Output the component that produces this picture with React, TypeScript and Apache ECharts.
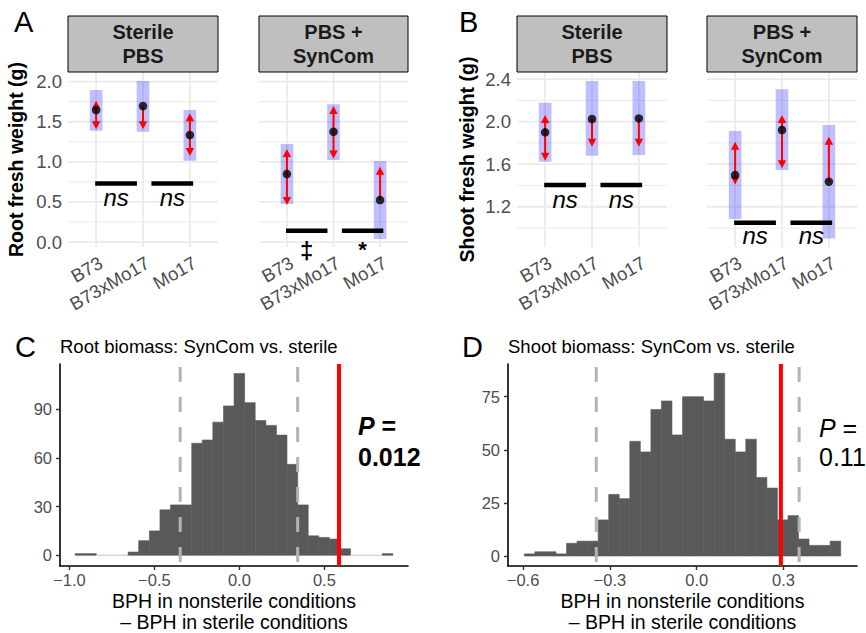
import React, { useEffect, useRef } from 'react';
import * as echarts from 'echarts';

const FONT = '"Liberation Sans", Arial, Helvetica, sans-serif';
const GRAY_TEXT = '#4D4D4D';

// ---------- Panels A / B data ----------
const genotypes = ['B73', 'B73xMo17', 'Mo17'];

const rootSterileMean = [1.646, 1.696, 1.334];
const rootSterileCiLow = [1.388, 1.375, 1.014];
const rootSterileCiHigh = [1.895, 2.007, 1.646];
const rootSterileArrowLow = [1.405, 1.405, 1.072];
const rootSterileArrowHigh = [1.762, 1.696, 1.605];

const rootSynMean = [0.848, 1.375, 0.524];
const rootSynCiLow = [0.474, 1.022, 0.037];
const rootSynCiHigh = [1.222, 1.717, 1.01];
const rootSynArrowLow = [0.461, 1.043, 0.524];
const rootSynArrowHigh = [1.16, 1.696, 0.939];

const shootSterileMean = [1.899, 2.024, 2.03];
const shootSterileCiLow = [1.623, 1.679, 1.686];
const shootSterileCiHigh = [2.177, 2.381, 2.381];
const shootSterileArrowLow = [1.632, 1.764, 1.764];
const shootSterileArrowHigh = [2.062, 2.024, 2.03];

const shootSynMean = [1.498, 1.921, 1.435];
const shootSynCiLow = [1.084, 1.545, 0.903];
const shootSynCiHigh = [1.911, 2.303, 1.968];
const shootSynArrowLow = [1.41, 1.561, 1.435];
const shootSynArrowHigh = [1.811, 2.062, 1.858];

// significance comparisons (x spans in genotype-position units)
const sigSpans = [[0.98, 1.87], [2.18, 3.07]];
const rootSterileSigY = [0.73, 0.73];
const rootSterileSigLabels = ['ns', 'ns'];
const rootSynSigY = [0.141, 0.141];
const rootSynSigLabels = ['‡', '*'];
const shootSterileSigY = [1.404, 1.404];
const shootSterileSigLabels = ['ns', 'ns'];
const shootSynSigY = [1.05, 1.05];
const shootSynSigLabels = ['ns', 'ns'];

const rootTicks = [0, 0.5, 1, 1.5, 2];
const rootMinorTicks = [0.25, 0.75, 1.25, 1.75];
const shootTicks = [1.2, 1.6, 2.0, 2.4];
const shootMinorTicks = [1.0, 1.4, 1.8, 2.2];

// ---------- Panels C / D data ----------
const rootBinWidth = 0.0623;
const rootBinCenters = [
  -0.935, -0.872, -0.81, -0.748, -0.685, -0.623, -0.561, -0.498, -0.436, -0.374,
  -0.312, -0.249, -0.187, -0.125, -0.062, 0, 0.062, 0.125, 0.187, 0.249,
  0.312, 0.374, 0.436, 0.498, 0.561, 0.623, 0.685, 0.748, 0.81, 0.872,
];
const rootBinCounts = [
  1, 1, 0, 0, 0, 2, 9, 15, 28, 31,
  31, 69, 71, 82, 92, 112, 94, 83, 80, 74,
  56, 31, 12, 11, 10, 4, 0, 0, 0, 1,
];
const rootObserved = 0.586;
const rootNullLow = -0.348;
const rootNullHigh = 0.343;
const rootXTicks = [-1.0, -0.5, 0.0, 0.5];
const rootYTicks = [0, 30, 60, 90];

const shootBinWidth = 0.03644;
const shootBinCenters = [
  -0.5773, -0.5409, -0.5044, -0.468, -0.4315, -0.3951, -0.3587, -0.3222, -0.2858, -0.2493,
  -0.2129, -0.1765, -0.14, -0.1036, -0.0671, -0.0307, 0.0057, 0.0422, 0.0786, 0.1151,
  0.1515, 0.1879, 0.2244, 0.2608, 0.2973, 0.3337, 0.3701, 0.4066, 0.443, 0.4795,
];
const shootBinCounts = [
  1, 2, 2, 1, 6, 7, 7, 17, 29, 27,
  54, 49, 69, 73, 57, 75, 75, 73, 86, 55,
  49, 55, 37, 32, 17, 19, 8, 5, 5, 7,
];
const shootObserved = 0.291;
const shootNullLow = -0.347;
const shootNullHigh = 0.354;
const shootXTicks = [-0.6, -0.3, 0.0, 0.3];
const shootYTicks = [0, 25, 50, 75];

const positions = genotypes.map((_, i) => i + 1);

function facetSeries(
  gi: number,
  mean: number[], ciLo: number[], ciHi: number[], arLo: number[], arHi: number[],
  major: number[], minor: number[], sigY: number[], sigLabels: string[],
  nsOffset: number,
) {
  return [
    {
      type: 'custom', xAxisIndex: gi, yAxisIndex: gi, z: 1, silent: true, clip: false,
      data: [
        ...major.map((v) => [0, v]),
        ...minor.map((v) => [1, v]),
        ...positions.map((v) => [2, v]),
      ],
      renderItem: (params: any, api: any) => {
        const cs = params.coordSys;
        const k = api.value(0);
        const v = api.value(1);
        if (k === 2) {
          const x = api.coord([v, major[0]])[0];
          return { type: 'line', shape: { x1: x, y1: cs.y, x2: x, y2: cs.y + cs.height }, style: { stroke: '#EBEBEB', lineWidth: 1.8 } };
        }
        const y = api.coord([1, v])[1];
        return { type: 'line', shape: { x1: cs.x, y1: y, x2: cs.x + cs.width, y2: y }, style: { stroke: '#EBEBEB', lineWidth: k === 0 ? 1.8 : 1 } };
      },
    },
    {
      type: 'custom', xAxisIndex: gi, yAxisIndex: gi, z: 2, silent: true, clip: false,
      data: positions.map((p, i) => [p, ciLo[i], ciHi[i]]),
      renderItem: (params: any, api: any) => {
        const x = api.value(0);
        const a = api.coord([x - 0.135, api.value(2)]);
        const b = api.coord([x + 0.135, api.value(1)]);
        return { type: 'rect', shape: { x: a[0], y: a[1], width: b[0] - a[0], height: b[1] - a[1] }, style: { fill: 'rgba(0,0,255,0.25)' } };
      },
    },
    {
      type: 'custom', xAxisIndex: gi, yAxisIndex: gi, z: 3, silent: true, clip: false,
      data: positions.map((p, i) => [p, mean[i], arLo[i], arHi[i]]),
      renderItem: (params: any, api: any) => {
        const x = api.value(0);
        const pm = api.coord([x, api.value(1)]);
        const pl = api.coord([x, api.value(2)]);
        const ph = api.coord([x, api.value(3)]);
        const px = pm[0];
        const children: any[] = [];
        const red = '#FF0000';
        const upOn = pm[1] - ph[1] > 4;
        const downOn = pl[1] - pm[1] > 4;
        const y1 = upOn ? ph[1] + 5 : pm[1];
        const y2 = downOn ? pl[1] - 5 : pm[1];
        children.push({ type: 'line', shape: { x1: px, y1, x2: px, y2 }, style: { stroke: red, lineWidth: 2 } });
        if (upOn) {
          children.push({ type: 'polygon', shape: { points: [[px, ph[1]], [px - 4.2, ph[1] + 8], [px + 4.2, ph[1] + 8]] }, style: { fill: red } });
        }
        if (downOn) {
          children.push({ type: 'polygon', shape: { points: [[px, pl[1]], [px - 4.2, pl[1] - 8], [px + 4.2, pl[1] - 8]] }, style: { fill: red } });
        }
        return { type: 'group', children };
      },
    },
    {
      type: 'scatter', xAxisIndex: gi, yAxisIndex: gi, z: 4, silent: true,
      symbolSize: 8.5, itemStyle: { color: '#000' },
      data: positions.map((p, i) => [p, mean[i]]),
    },
    {
      type: 'custom', xAxisIndex: gi, yAxisIndex: gi, z: 5, silent: true, clip: false,
      data: sigSpans.map((s, j) => [s[0], sigY[j], s[1]]),
      renderItem: (params: any, api: any) => {
        const a = api.coord([api.value(0), api.value(1)]);
        const b = api.coord([api.value(2), api.value(1)]);
        const label = sigLabels[params.dataIndex];
        const isNs = label === 'ns';
        const off = isNs ? nsOffset : label === '‡' ? 20 : 19;
        return {
          type: 'group',
          children: [
            { type: 'line', shape: { x1: a[0], y1: a[1], x2: b[0], y2: b[1] }, style: { stroke: '#000', lineWidth: 4.5 } },
            {
              type: 'text', x: (a[0] + b[0]) / 2, y: a[1] + off,
              style: {
                text: label, align: 'center', verticalAlign: 'middle', fill: '#000',
                font: isNs ? `italic 24px ${FONT}` : `bold ${label === '*' ? 22 : 24}px ${FONT}`,
              },
            },
          ],
        };
      },
    },
  ];
}

function histSeries(gi: number, centers: number[], counts: number[], width: number, low: number, high: number, obs: number) {
  return [
    {
      type: 'custom', xAxisIndex: gi, yAxisIndex: gi, z: 2, silent: true, clip: false,
      data: centers.map((c, i) => [c, counts[i]]),
      renderItem: (params: any, api: any) => {
        const c = api.value(0);
        const n = api.value(1);
        const a = api.coord([c - width / 2, n]);
        const b = api.coord([c + width / 2, 0]);
        if (n === 0) {
          return { type: 'rect', shape: { x: a[0], y: b[1] - 0.7, width: b[0] - a[0], height: 1.4 }, style: { fill: '#D6D6D6' } };
        }
        return { type: 'rect', shape: { x: a[0], y: a[1], width: b[0] - a[0], height: b[1] - a[1] }, style: { fill: '#595959', stroke: '#595959', lineWidth: 0.6 } };
      },
    },
    {
      type: 'custom', xAxisIndex: gi, yAxisIndex: gi, z: 3, silent: true, clip: false,
      data: [[low, 0], [high, 0], [obs, 1]],
      renderItem: (params: any, api: any) => {
        const cs = params.coordSys;
        const x = api.coord([api.value(0), 0])[0];
        const isObs = api.value(1) === 1;
        return {
          type: 'line',
          shape: { x1: x, y1: cs.y, x2: x, y2: cs.y + cs.height },
          style: isObs
            ? { stroke: '#FF0000', lineWidth: 4 }
            : { stroke: '#B3B3B3', lineWidth: 3, lineDash: [15, 15], lineDashOffset: 27 },
        };
      },
    },
  ];
}

const fmtSigned = (v: number) => (v < 0 ? '\u2212' : '') + Math.abs(v).toFixed(1);

function buildOption() {
  const grids = [
    { left: 68, top: 72, width: 150, height: 175 },
    { left: 259, top: 72, width: 149, height: 175 },
    { left: 517, top: 72, width: 150, height: 175 },
    { left: 707, top: 72, width: 150, height: 175 },
    { left: 60, top: 364, width: 348, height: 203 },
    { left: 508, top: 364, width: 349, height: 202 },
  ];

  const facetX = (gi: number) => ({
    type: 'value', gridIndex: gi, min: 0.4, max: 3.6,
    axisLine: { show: false }, axisTick: { show: false }, splitLine: { show: false },
    axisLabel: {
      customValues: positions,
      formatter: (v: number) => genotypes[Math.round(v) - 1] ?? '',
      rotate: 30, align: 'right', verticalAlign: 'top',
      fontSize: 18.5, color: GRAY_TEXT, fontFamily: FONT, margin: 6,
    },
  });
  const facetY = (gi: number, min: number, max: number, ticks: number[], show: boolean, name: string, gap: number) => ({
    type: 'value', gridIndex: gi, min, max,
    axisLine: { show: false }, axisTick: { show: false }, splitLine: { show: false },
    axisLabel: { show, customValues: ticks, formatter: (v: number) => v.toFixed(1), fontSize: 18.5, color: GRAY_TEXT, fontFamily: FONT, margin: 6 },
    name, nameLocation: 'middle', nameGap: gap,
    nameTextStyle: { fontSize: 19.5, fontWeight: 'bold', color: '#000', fontFamily: FONT },
  });
  const histX = (gi: number, min: number, max: number, ticks: number[]) => ({
    type: 'value', gridIndex: gi, min, max,
    axisLine: { show: true, onZero: false, lineStyle: { color: '#000', width: 1.6 } },
    axisTick: { show: true, customValues: ticks, length: 4, lineStyle: { color: '#333', width: 1.4 } },
    splitLine: { show: false },
    axisLabel: { customValues: ticks, formatter: fmtSigned, fontSize: 16.5, color: GRAY_TEXT, fontFamily: FONT, margin: 5 },
    name: 'BPH in nonsterile conditions\n\u2013 BPH in sterile conditions',
    nameLocation: 'middle', nameGap: 24,
    nameTextStyle: { fontSize: 19.5, color: '#000', fontFamily: FONT, lineHeight: 21 },
  });
  const histY = (gi: number, min: number, max: number, ticks: number[]) => ({
    type: 'value', gridIndex: gi, min, max,
    axisLine: { show: true, onZero: false, lineStyle: { color: '#000', width: 1.6 } },
    axisTick: { show: true, customValues: ticks, length: 4, lineStyle: { color: '#333', width: 1.4 } },
    splitLine: { show: false },
    axisLabel: { customValues: ticks, formatter: (v: number) => String(v), fontSize: 16.5, color: GRAY_TEXT, fontFamily: FONT, margin: 8 },
  });

  const strip = (left: number, width: number, text: string) => [
    { type: 'rect', shape: { x: left, y: 16, width, height: 56 }, style: { fill: '#BFBFBF', stroke: '#000', lineWidth: 1 }, z: 10 },
    {
      type: 'text', x: left + width / 2, y: 44, z: 11,
      style: { text, align: 'center', verticalAlign: 'middle', font: `bold 20px ${FONT}`, lineHeight: 24, fill: '#1A1A1A' },
    },
  ];
  const letter = (x: number, y: number, t: string) => ({
    type: 'text', x, y, z: 11, style: { text: t, align: 'left', verticalAlign: 'middle', font: `29px ${FONT}`, fill: '#000' },
  });

  return {
    animation: false,
    backgroundColor: '#fff',
    grid: grids.map((g) => ({ ...g, containLabel: false })),
    xAxis: [facetX(0), facetX(1), facetX(2), facetX(3), histX(4, -1.055, 0.992, rootXTicks), histX(5, -0.652, 0.554, shootXTicks)],
    yAxis: [
      facetY(0, -0.062, 2.12, rootTicks, true, 'Root fresh weight (g)', 42),
      facetY(1, -0.062, 2.12, rootTicks, false, '', 0),
      facetY(2, 0.822, 2.466, shootTicks, true, 'Shoot fresh weight (g)', 40),
      facetY(3, 0.822, 2.466, shootTicks, false, '', 0),
      histY(4, -6.6, 117.8, rootYTicks),
      histY(5, -4.7, 90.4, shootYTicks),
    ],
    series: [
      ...facetSeries(0, rootSterileMean, rootSterileCiLow, rootSterileCiHigh, rootSterileArrowLow, rootSterileArrowHigh, rootTicks, rootMinorTicks, rootSterileSigY, rootSterileSigLabels, 14),
      ...facetSeries(1, rootSynMean, rootSynCiLow, rootSynCiHigh, rootSynArrowLow, rootSynArrowHigh, rootTicks, rootMinorTicks, rootSynSigY, rootSynSigLabels, 14),
      ...facetSeries(2, shootSterileMean, shootSterileCiLow, shootSterileCiHigh, shootSterileArrowLow, shootSterileArrowHigh, shootTicks, shootMinorTicks, shootSterileSigY, shootSterileSigLabels, 14),
      ...facetSeries(3, shootSynMean, shootSynCiLow, shootSynCiHigh, shootSynArrowLow, shootSynArrowHigh, shootTicks, shootMinorTicks, shootSynSigY, shootSynSigLabels, 13),
      ...histSeries(4, rootBinCenters, rootBinCounts, rootBinWidth, rootNullLow, rootNullHigh, rootObserved),
      ...histSeries(5, shootBinCenters, shootBinCounts, shootBinWidth, shootNullLow, shootNullHigh, shootObserved),
    ],
    graphic: [
      ...strip(68, 150, 'Sterile\nPBS'),
      ...strip(259, 149, 'PBS +\nSynCom'),
      ...strip(517, 150, 'Sterile\nPBS'),
      ...strip(707, 150, 'PBS +\nSynCom'),
      letter(14, 22, 'A'),
      letter(459, 22, 'B'),
      letter(15, 347, 'C'),
      letter(462, 347, 'D'),
      { type: 'text', x: 60, y: 346, style: { text: 'Root biomass: SynCom vs. sterile', align: 'left', verticalAlign: 'middle', font: `18.5px ${FONT}`, fill: '#000' } },
      { type: 'text', x: 508, y: 346, style: { text: 'Shoot biomass: SynCom vs. sterile', align: 'left', verticalAlign: 'middle', font: `18.5px ${FONT}`, fill: '#000' } },
      {
        type: 'text', x: 358, y: 426,
        style: {
          text: '{a|P}{b| =}', align: 'left', verticalAlign: 'middle',
          rich: {
            a: { fontStyle: 'italic', fontWeight: 'bold', fontSize: 25, fontFamily: FONT, fill: '#000' },
            b: { fontWeight: 'bold', fontSize: 25, fontFamily: FONT, fill: '#000' },
          },
        },
      },
      { type: 'text', x: 358, y: 457, style: { text: '0.012', align: 'left', verticalAlign: 'middle', font: `bold 25px ${FONT}`, fill: '#000' } },
      {
        type: 'text', x: 819, y: 428,
        style: {
          text: '{a|P}{b| =}', align: 'left', verticalAlign: 'middle',
          rich: {
            a: { fontStyle: 'italic', fontSize: 25, fontFamily: FONT, fill: '#000' },
            b: { fontSize: 25, fontFamily: FONT, fill: '#000' },
          },
        },
      },
      { type: 'text', x: 819, y: 457, style: { text: '0.11', align: 'left', verticalAlign: 'middle', font: `25px ${FONT}`, fill: '#000' } },
    ],
  };
}

export default function App() {
  const ref = useRef<HTMLDivElement>(null);
  useEffect(() => {
    document.body.style.margin = '0';
    const chart = echarts.init(ref.current as HTMLDivElement, null, { renderer: 'svg' });
    chart.setOption(buildOption() as any);
    return () => chart.dispose();
  }, []);
  return <div ref={ref} style={{ width: 866, height: 633 }} />;
}
